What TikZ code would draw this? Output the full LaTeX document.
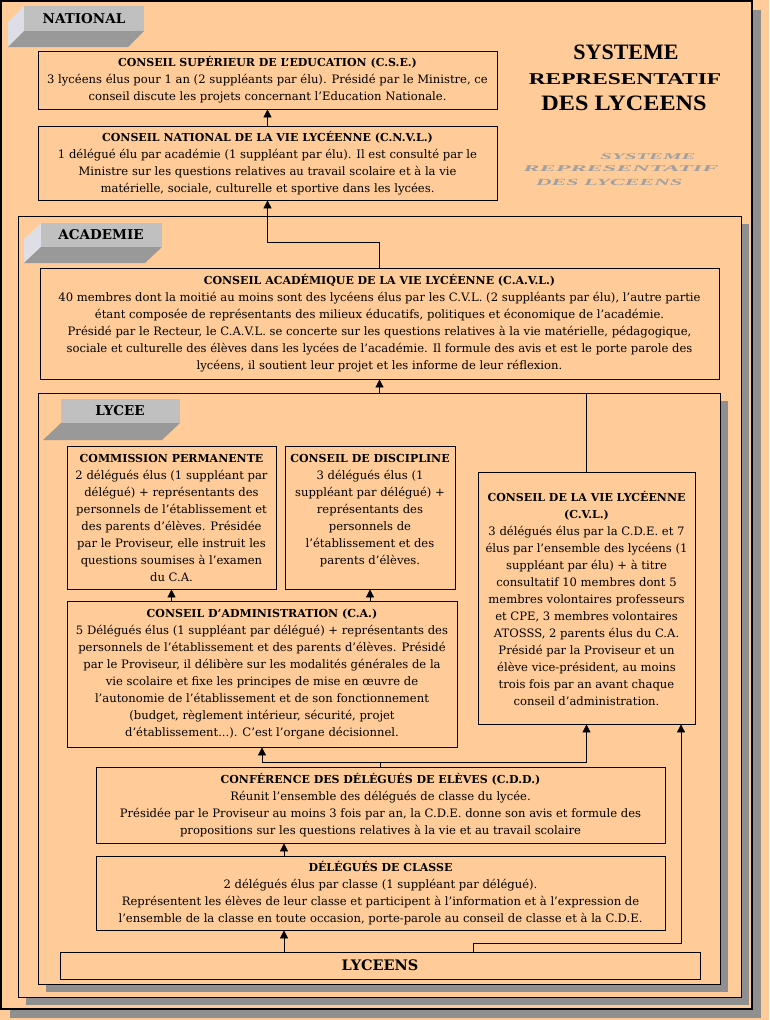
\documentclass[tikz,border=0pt]{standalone}
\usepackage{graphicx}
\usepackage{fontspec}
\setmainfont{DejaVu Serif}
\newfontfamily\titrefont{Liberation Serif}
\usetikzlibrary{arrows.meta,calc}
\definecolor{peche}{RGB}{255,204,153}
\definecolor{ombre}{RGB}{143,143,143}
\definecolor{ongletface}{RGB}{192,192,192}
\definecolor{ongletbas}{RGB}{153,153,153}
\definecolor{ongletcote}{RGB}{222,222,230}
\definecolor{grisreflet}{RGB}{160,160,160}
\newcommand{\entete}[1]{{\fontsize{11}{17}\selectfont\bfseries #1}}
\tikzset{
  boite/.style={rectangle, draw=black, fill=peche, line width=0.8pt, align=center,
                inner sep=1pt, font=\fontsize{11.6}{17}\selectfont},
  cadre/.style={draw=black, fill=peche, line width=0.9pt},
  ombrage/.style={fill=ombre},
  fleche/.style={-{Triangle[length=8pt,width=8pt]}, line width=0.8pt},
  onglet/.style={font=\fontsize{13.5}{15}\selectfont\bfseries},
  titre/.style={font=\titrefont\fontsize{22}{24}\selectfont\bfseries},
  reflet/.style={text=grisreflet, font=\titrefont\fontsize{11}{12}\selectfont\bfseries\itshape},
}

\begin{document}
\begin{tikzpicture}[x=1pt, y=-1pt]
\useasboundingbox (0,0) rectangle (769,1020);
\fill[peche] (0,0) rectangle (769,1020);

% cadres
\fill[ombrage] (10,10) rectangle (761,1018);
\draw[cadre, line width=1.8pt] (1,1) rectangle (752,1009);
\fill[ombrage] (26,224) rectangle (749,1005);
\draw[cadre] (18,216) rectangle (741,997);
\fill[ombrage] (46,401) rectangle (728,992);
\draw[cadre] (38,393) rectangle (720,984);

% onglets
\fill[ongletcote] (8,22) -- (24,6) -- (24,31) -- (8,47) -- cycle;
\fill[ongletbas] (8,47) -- (24,31) -- (144,31) -- (128,47) -- cycle;
\fill[ongletface] (24,6) rectangle (144,31);
\node[onglet] (tabnat) at (84,19) {NATIONAL};

\fill[ongletcote] (24,239) -- (41,223) -- (41,247) -- (24,263) -- cycle;
\fill[ongletbas] (24,263) -- (41,247) -- (162,247) -- (145,263) -- cycle;
\fill[ongletface] (41,223) rectangle (162,247);
\node[onglet] (tabaca) at (101,235) {ACADEMIE};

\fill[ongletbas] (43,440) -- (61,423) -- (180,423) -- (162,440) -- cycle;
\fill[ongletface] (61,399) rectangle (180,423);
\node[onglet] (tablyc) at (120,411) {LYCEE};

% titre
\node[titre] (titre1) at (626,52) {SYSTEME};
\node[titre] (titre2) at (625,79) {\scalebox{1.06}[0.75]{REPRESENTATIF}};
\node[titre] (titre3) at (624,103) {\scalebox{1.1}[1]{DES LYCEENS}};
\node[reflet] (reflet1) at (648,157) {\scalebox{1.9}[0.8]{SYSTEME}};
\node[reflet] (reflet2) at (621,169) {\scalebox{2.2}[0.8]{REPRESENTATIF}};
\node[reflet] (reflet3) at (609,182) {\scalebox{2.0}[0.85]{DES LYCEENS}};

% national
\node[boite, minimum width=459, minimum height=58] (cse) at (267.5,80)
  {\entete{CONSEIL SUPÉRIEUR DE L'EDUCATION (C.S.E.)}\\
   3 lycéens élus pour 1 an (2 suppléants par élu). Présidé par le Ministre, ce\\
   conseil discute les projets concernant l'Education Nationale.};
\node[boite, minimum width=459, minimum height=74] (cnvl) at (267.5,163)
  {\entete{CONSEIL NATIONAL DE LA VIE LYCÉENNE (C.N.V.L.)}\\
   1 délégué élu par académie (1 suppléant par élu). Il est consulté par le\\
   Ministre sur les questions relatives au travail scolaire et à la vie\\
   matérielle, sociale, culturelle et sportive dans les lycées.};

% academie
\node[boite, minimum width=679, minimum height=111] (cavl) at (379.5,323.5)
  {\entete{CONSEIL ACADÉMIQUE DE LA VIE LYCÉENNE (C.A.V.L.)}\\
   40 membres dont la moitié au moins sont des lycéens élus par les C.V.L. (2 suppléants par élu), l'autre partie\\
   étant composée de représentants des milieux éducatifs, politiques et économique de l'académie.\\
   Présidé par le Recteur, le C.A.V.L. se concerte sur les questions relatives à la vie matérielle, pédagogique,\\
   sociale et culturelle des élèves dans les lycées de l'académie. Il formule des avis et est le porte parole des\\
   lycéens, il soutient leur projet et les informe de leur réflexion.};

% lycee
\node[boite, minimum width=209, minimum height=143] (cp) at (171.5,517.5)
  {\entete{COMMISSION PERMANENTE}\\
   2 délégués élus (1 suppléant par\\
   délégué) + représentants des\\
   personnels de l'établissement et\\
   des parents d'élèves. Présidée\\
   par le Proviseur, elle instruit les\\
   questions soumises à l'examen\\
   du C.A.};
\node[boite, minimum width=170, minimum height=143] (cd) at (370,517.5)
  {\entete{CONSEIL DE DISCIPLINE}\\
   3 délégués élus (1\\
   suppléant par délégué) +\\
   représentants des\\
   personnels de\\
   l'établissement et des\\
   parents d'élèves.\\ ~};
\node[boite, minimum width=217, minimum height=252] (cvl) at (586.5,598)
  {\entete{CONSEIL DE LA VIE LYCÉENNE}\\
   \entete{(C.V.L.)}\\
   3 délégués élus par la C.D.E. et 7\\
   élus par l'ensemble des lycéens (1\\
   suppléant par élu) + à titre\\
   consultatif 10 membres dont 5\\
   membres volontaires professeurs\\
   et CPE, 3 membres volontaires\\
   ATOSSS, 2 parents élus du C.A.\\
   Présidé par la Proviseur et un\\
   élève vice-président, au moins\\
   trois fois par an avant chaque\\
   conseil d'administration.};
\node[boite, minimum width=390, minimum height=146] (ca) at (262,674)
  {\entete{CONSEIL D'ADMINISTRATION (C.A.)}\\
   5 Délégués élus (1 suppléant par délégué) + représentants des\\
   personnels de l'établissement et des parents d'élèves. Présidé\\
   par le Proviseur, il délibère sur les modalités générales de la\\
   vie scolaire et fixe les principes de mise en œuvre de\\
   l'autonomie de l'établissement et de son fonctionnement\\
   (budget, règlement intérieur, sécurité, projet\\
   d'établissement...). C'est l'organe décisionnel.};
\node[boite, minimum width=569, minimum height=76] (cdd) at (380.5,805)
  {\entete{CONFÉRENCE DES DÉLÉGUÉS DE ELÈVES (C.D.D.)}\\
   Réunit l'ensemble des délégués de classe du lycée.\\
   Présidée par le Proviseur au moins 3 fois par an, la C.D.E. donne son avis et formule des\\
   propositions sur les questions relatives à la vie et au travail scolaire};
\node[boite, minimum width=569, minimum height=74] (dc) at (380.5,893)
  {\entete{DÉLÉGUÉS DE CLASSE}\\
   2 délégués élus par classe (1 suppléant par délégué).\\
   Représentent les élèves de leur classe et participent à l'information et à l'expression de\\
   l'ensemble de la classe en toute occasion, porte-parole au conseil de classe et à la C.D.E.};
\node[boite, minimum width=640, minimum height=27, font=\fontsize{14.5}{16}\selectfont\bfseries] (lyceens) at (380,965.5) {LYCEENS};

% liaisons
\coordinate (coude1) at (379.5,242);
\coordinate (coude2) at (586.5,393);
\coordinate (coude3) at (380.5,762);
\coordinate (coude4) at (473,943);
\coordinate (coude5) at (681,943);
\coordinate (axe) at (284,0);
\draw[fleche] (cnvl.north) -- (cse.south);
\draw[fleche] (cavl.north) -- (coude1) -| (cnvl.south);
\draw[fleche] (cvl.north) -- (coude2) -| (cavl.south);
\draw[fleche] (ca.north -| cp.south) -- (cp.south);
\draw[fleche] (ca.north -| cd.south) -- (cd.south);
\draw[fleche] (cdd.north) -- (coude3) -| (ca.south);
\draw[fleche] (coude3) -| (cvl.south);
\draw[fleche] (dc.north -| axe) -- (cdd.south -| axe);
\draw[fleche] (lyceens.north -| axe) -- (dc.south -| axe);
\draw[fleche] (lyceens.north -| coude4) -- (coude4) -- (coude5) -- (cvl.south -| coude5);
\end{tikzpicture}
\end{document}
